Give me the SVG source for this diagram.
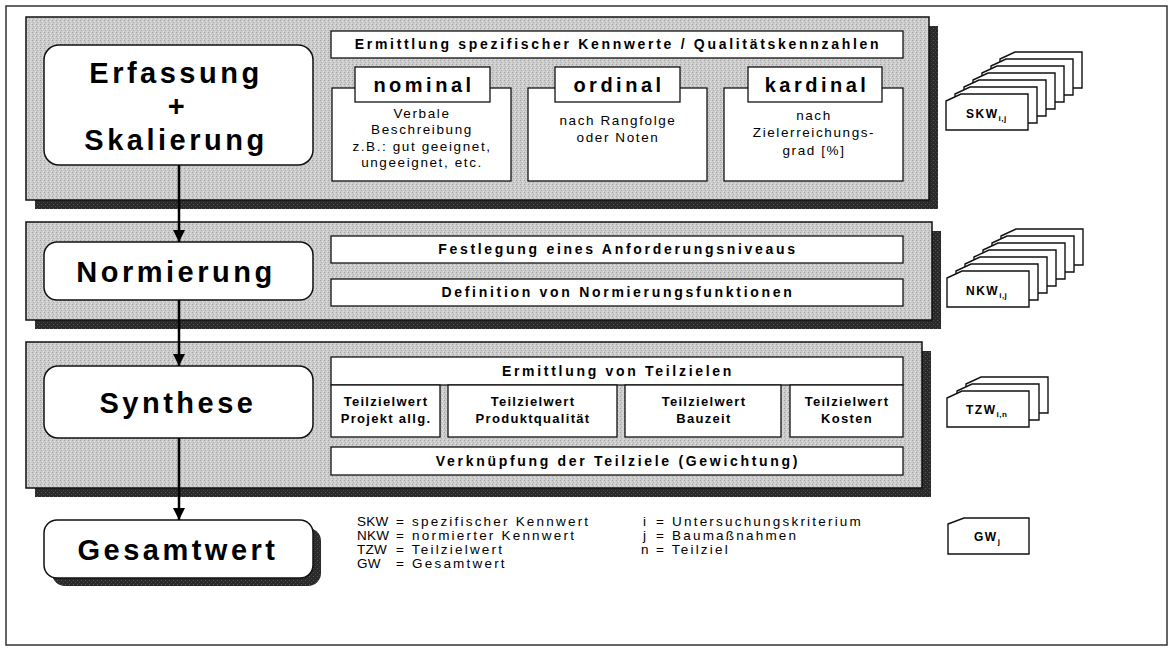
<svg xmlns="http://www.w3.org/2000/svg" width="1174" height="657" viewBox="0 0 1174 657">
<defs>
<pattern id="tex" width="4" height="4" patternUnits="userSpaceOnUse">
<rect width="4" height="4" fill="#cbcbcb"/>
<rect x="0" y="0" width="1" height="1" fill="#a2a2a2"/>
<rect x="2" y="1" width="1" height="1" fill="#e6e6e6"/>
<rect x="1" y="2" width="1" height="1" fill="#b0b0b0"/>
<rect x="3" y="3" width="1" height="1" fill="#dedede"/>
</pattern>
<pattern id="dtex" width="4" height="4" patternUnits="userSpaceOnUse">
<rect width="4" height="4" fill="#2a2a2a"/>
<rect x="1" y="0" width="1" height="1" fill="#5a5a5a"/>
<rect x="3" y="2" width="1" height="1" fill="#4a4a4a"/>
</pattern>
<marker id="arr" viewBox="0 0 12 12" refX="12" refY="6" markerWidth="12" markerHeight="12" markerUnits="userSpaceOnUse" orient="auto">
<path d="M0,0 L12,6 L0,12 Z" fill="#000"/>
</marker>
<style>
.frame{fill:none;stroke:#333;stroke-width:1.5}
.panel{fill:url(#tex);stroke:#111;stroke-width:1.5}
.shadow{fill:url(#dtex);stroke:none}
.node{fill:#fff;stroke:#111;stroke-width:1.5}
.box{fill:#fff;stroke:#111;stroke-width:1.3}
.card{fill:#fff;stroke:#111;stroke-width:1.4}
.title{font-family:"Liberation Sans",Arial,sans-serif;font-weight:bold;font-size:29px;letter-spacing:3.5px;text-anchor:middle;fill:#000}
.hdr{font-family:"Liberation Sans",Arial,sans-serif;font-weight:bold;font-size:14px;letter-spacing:2.7px;text-anchor:middle;fill:#000}
.scale{font-family:"Liberation Sans",Arial,sans-serif;font-weight:bold;font-size:20px;letter-spacing:3.5px;text-anchor:middle;fill:#000}
.body{font-family:"Liberation Sans",Arial,sans-serif;font-size:13.5px;letter-spacing:1.6px;text-anchor:middle;fill:#000}
.sub{font-family:"Liberation Sans",Arial,sans-serif;font-weight:bold;font-size:13px;letter-spacing:1.3px;text-anchor:middle;fill:#000}
.lbl{font-family:"Liberation Sans",Arial,sans-serif;font-weight:bold;font-size:12px;letter-spacing:1.5px;fill:#000}
.lbl tspan.s{font-size:8px;letter-spacing:0.5px}
.leg{font-family:"Liberation Sans",Arial,sans-serif;font-size:13.5px;letter-spacing:2.2px;fill:#000}
.ab{font-family:"Liberation Sans",Arial,sans-serif;font-size:13.5px;letter-spacing:0.3px;fill:#000}
.conn{stroke:#000;stroke-width:2.5;fill:none}
</style>
</defs>
<rect width="1174" height="657" fill="#fff"/>
<rect class="frame" x="6" y="6" width="1161" height="639"/>

<!-- Panel 1 -->
<g id="panel-erfassung">
<rect class="shadow" x="35" y="26" width="903" height="183"/>
<rect class="panel" x="26" y="17" width="903" height="183"/>
</g>
<g id="node-erfassung">
<rect class="node" x="44" y="45" width="269" height="120" rx="15"/>
<text class="title" x="176" y="83">Erfassung</text>
<text class="title" x="178" y="116">+</text>
<text class="title" x="176" y="150">Skalierung</text>
</g>
<g id="box-ermittlung-kennwerte">
<rect class="box" x="331" y="31" width="572" height="27"/>
<text class="hdr" x="618" y="49">Ermittlung spezifischer Kennwerte / Qualitätskennzahlen</text>
</g>
<g id="box-nominal">
<rect class="box" x="332" y="88" width="179" height="93"/>
<rect class="box" x="355" y="67" width="135" height="35"/>
<text class="scale" x="424" y="92">nominal</text>
<text class="body" x="422" y="118">Verbale</text>
<text class="body" x="422" y="134">Beschreibung</text>
<text class="body" x="422" y="151">z.B.: gut geeignet,</text>
<text class="body" x="422" y="167">ungeeignet, etc.</text>
</g>
<g id="box-ordinal">
<rect class="box" x="528" y="88" width="179" height="93"/>
<rect class="box" x="555" y="67" width="125" height="35"/>
<text class="scale" x="619" y="92">ordinal</text>
<text class="body" x="618" y="125">nach Rangfolge</text>
<text class="body" x="618" y="142">oder Noten</text>
</g>
<g id="box-kardinal">
<rect class="box" x="724" y="88" width="179" height="93"/>
<rect class="box" x="748" y="67" width="134" height="35"/>
<text class="scale" x="817" y="92">kardinal</text>
<text class="body" x="814" y="120">nach</text>
<text class="body" x="814" y="137">Zielerreichungs-</text>
<text class="body" x="814" y="155">grad [%]</text>
</g>
<g id="stack-skw">
<path class="card" d="M1000,59 L1015,52 L1082,52 L1082,88 L1000,88 Z"/>
<path class="card" d="M991,66 L1006,59 L1073,59 L1073,95 L991,95 Z"/>
<path class="card" d="M982,73 L997,66 L1064,66 L1064,102 L982,102 Z"/>
<path class="card" d="M973,80 L988,73 L1055,73 L1055,109 L973,109 Z"/>
<path class="card" d="M964,87 L979,80 L1046,80 L1046,116 L964,116 Z"/>
<path class="card" d="M955,94 L970,87 L1037,87 L1037,123 L955,123 Z"/>
<path class="card" d="M946,101 L961,94 L1028,94 L1028,130 L946,130 Z"/>
<text class="lbl" x="966" y="118">SKW<tspan class="s" dy="3">i,j</tspan></text>
</g>

<!-- Panel 2 -->
<g id="panel-normierung">
<rect class="shadow" x="35" y="231" width="906" height="98"/>
<rect class="panel" x="26" y="222" width="906" height="98"/>
</g>
<g id="node-normierung">
<rect class="node" x="44" y="242" width="269" height="58" rx="13"/>
<text class="title" x="176" y="282">Normierung</text>
</g>
<g id="box-festlegung">
<rect class="box" x="331" y="236" width="572" height="27"/>
<text class="hdr" x="618" y="254">Festlegung eines Anforderungsniveaus</text>
</g>
<g id="box-definition">
<rect class="box" x="331" y="279" width="572" height="27"/>
<text class="hdr" x="618" y="297">Definition von Normierungsfunktionen</text>
</g>
<g id="stack-nkw">
<path class="card" d="M1001,236 L1016,229 L1083,229 L1083,265 L1001,265 Z"/>
<path class="card" d="M992,243 L1007,236 L1074,236 L1074,272 L992,272 Z"/>
<path class="card" d="M983,250 L998,243 L1065,243 L1065,279 L983,279 Z"/>
<path class="card" d="M974,257 L989,250 L1056,250 L1056,286 L974,286 Z"/>
<path class="card" d="M965,264 L980,257 L1047,257 L1047,293 L965,293 Z"/>
<path class="card" d="M956,271 L971,264 L1038,264 L1038,300 L956,300 Z"/>
<path class="card" d="M947,278 L962,271 L1029,271 L1029,307 L947,307 Z"/>
<text class="lbl" x="966" y="295">NKW<tspan class="s" dy="3">i,j</tspan></text>
</g>

<!-- Panel 3 -->
<g id="panel-synthese">
<rect class="shadow" x="35" y="351" width="896" height="146"/>
<rect class="panel" x="26" y="342" width="896" height="146"/>
</g>
<g id="node-synthese">
<rect class="node" x="44" y="366" width="269" height="72" rx="14"/>
<text class="title" x="178" y="413">Synthese</text>
</g>
<g id="box-ermittlung-teilziele">
<rect class="box" x="331" y="357" width="572" height="28"/>
<text class="hdr" x="618" y="376">Ermittlung von Teilzielen</text>
</g>
<g id="box-tzw-projekt">
<rect class="box" x="331" y="385" width="109" height="52"/>
<text class="sub" x="386" y="406">Teilzielwert</text>
<text class="sub" x="386" y="423">Projekt allg.</text>
</g>
<g id="box-tzw-produkt">
<rect class="box" x="448" y="385" width="169" height="52"/>
<text class="sub" x="533" y="406">Teilzielwert</text>
<text class="sub" x="533" y="423">Produktqualität</text>
</g>
<g id="box-tzw-bauzeit">
<rect class="box" x="625" y="385" width="156" height="52"/>
<text class="sub" x="704" y="406">Teilzielwert</text>
<text class="sub" x="704" y="423">Bauzeit</text>
</g>
<g id="box-tzw-kosten">
<rect class="box" x="790" y="385" width="113" height="52"/>
<text class="sub" x="847" y="406">Teilzielwert</text>
<text class="sub" x="847" y="423">Kosten</text>
</g>
<g id="box-verknuepfung">
<rect class="box" x="331" y="447" width="572" height="28"/>
<text class="hdr" x="618" y="466">Verknüpfung der Teilziele (Gewichtung)</text>
</g>
<g id="stack-tzw">
<path class="card" d="M966,384 L981,377 L1048,377 L1048,413 L966,413 Z"/>
<path class="card" d="M957,391 L972,384 L1039,384 L1039,420 L957,420 Z"/>
<path class="card" d="M947,398 L962,391 L1029,391 L1029,427 L947,427 Z"/>
<text class="lbl" x="966" y="414">TZW<tspan class="s" dy="3">i,n</tspan></text>
</g>

<!-- Gesamtwert -->
<g id="node-gesamtwert">
<rect class="shadow" x="52" y="528" width="269" height="58" rx="13"/>
<rect class="node" x="44" y="520" width="269" height="58" rx="13"/>
<text class="title" x="178" y="560">Gesamtwert</text>
</g>
<g id="card-gw">
<path class="card" d="M948,524 L964,518 L1029,518 L1029,554 L948,554 Z"/>
<text class="lbl" x="974" y="541">GW<tspan class="s" dy="3">j</tspan></text>
</g>

<g id="legend">
<text class="ab" x="357" y="526">SKW</text><text class="leg" x="396" y="526">= spezifischer Kennwert</text>
<text class="ab" x="357" y="540">NKW</text><text class="leg" x="396" y="540">= normierter Kennwert</text>
<text class="ab" x="357" y="554">TZW</text><text class="leg" x="396" y="554">= Teilzielwert</text>
<text class="ab" x="357" y="568">GW</text><text class="leg" x="396" y="568">= Gesamtwert</text>
<text class="leg" x="643" y="526">i</text><text class="leg" x="656" y="526">= Untersuchungskriterium</text>
<text class="leg" x="643" y="540">j</text><text class="leg" x="656" y="540">= Baumaßnahmen</text>
<text class="leg" x="641" y="554">n</text><text class="leg" x="656" y="554">= Teilziel</text>
</g>

<g id="connectors">
<line class="conn" x1="179" y1="165" x2="179" y2="242" marker-end="url(#arr)"/>
<line class="conn" x1="179" y1="300" x2="179" y2="366" marker-end="url(#arr)"/>
<line class="conn" x1="179" y1="438" x2="179" y2="520" marker-end="url(#arr)"/>
</g>
</svg>
